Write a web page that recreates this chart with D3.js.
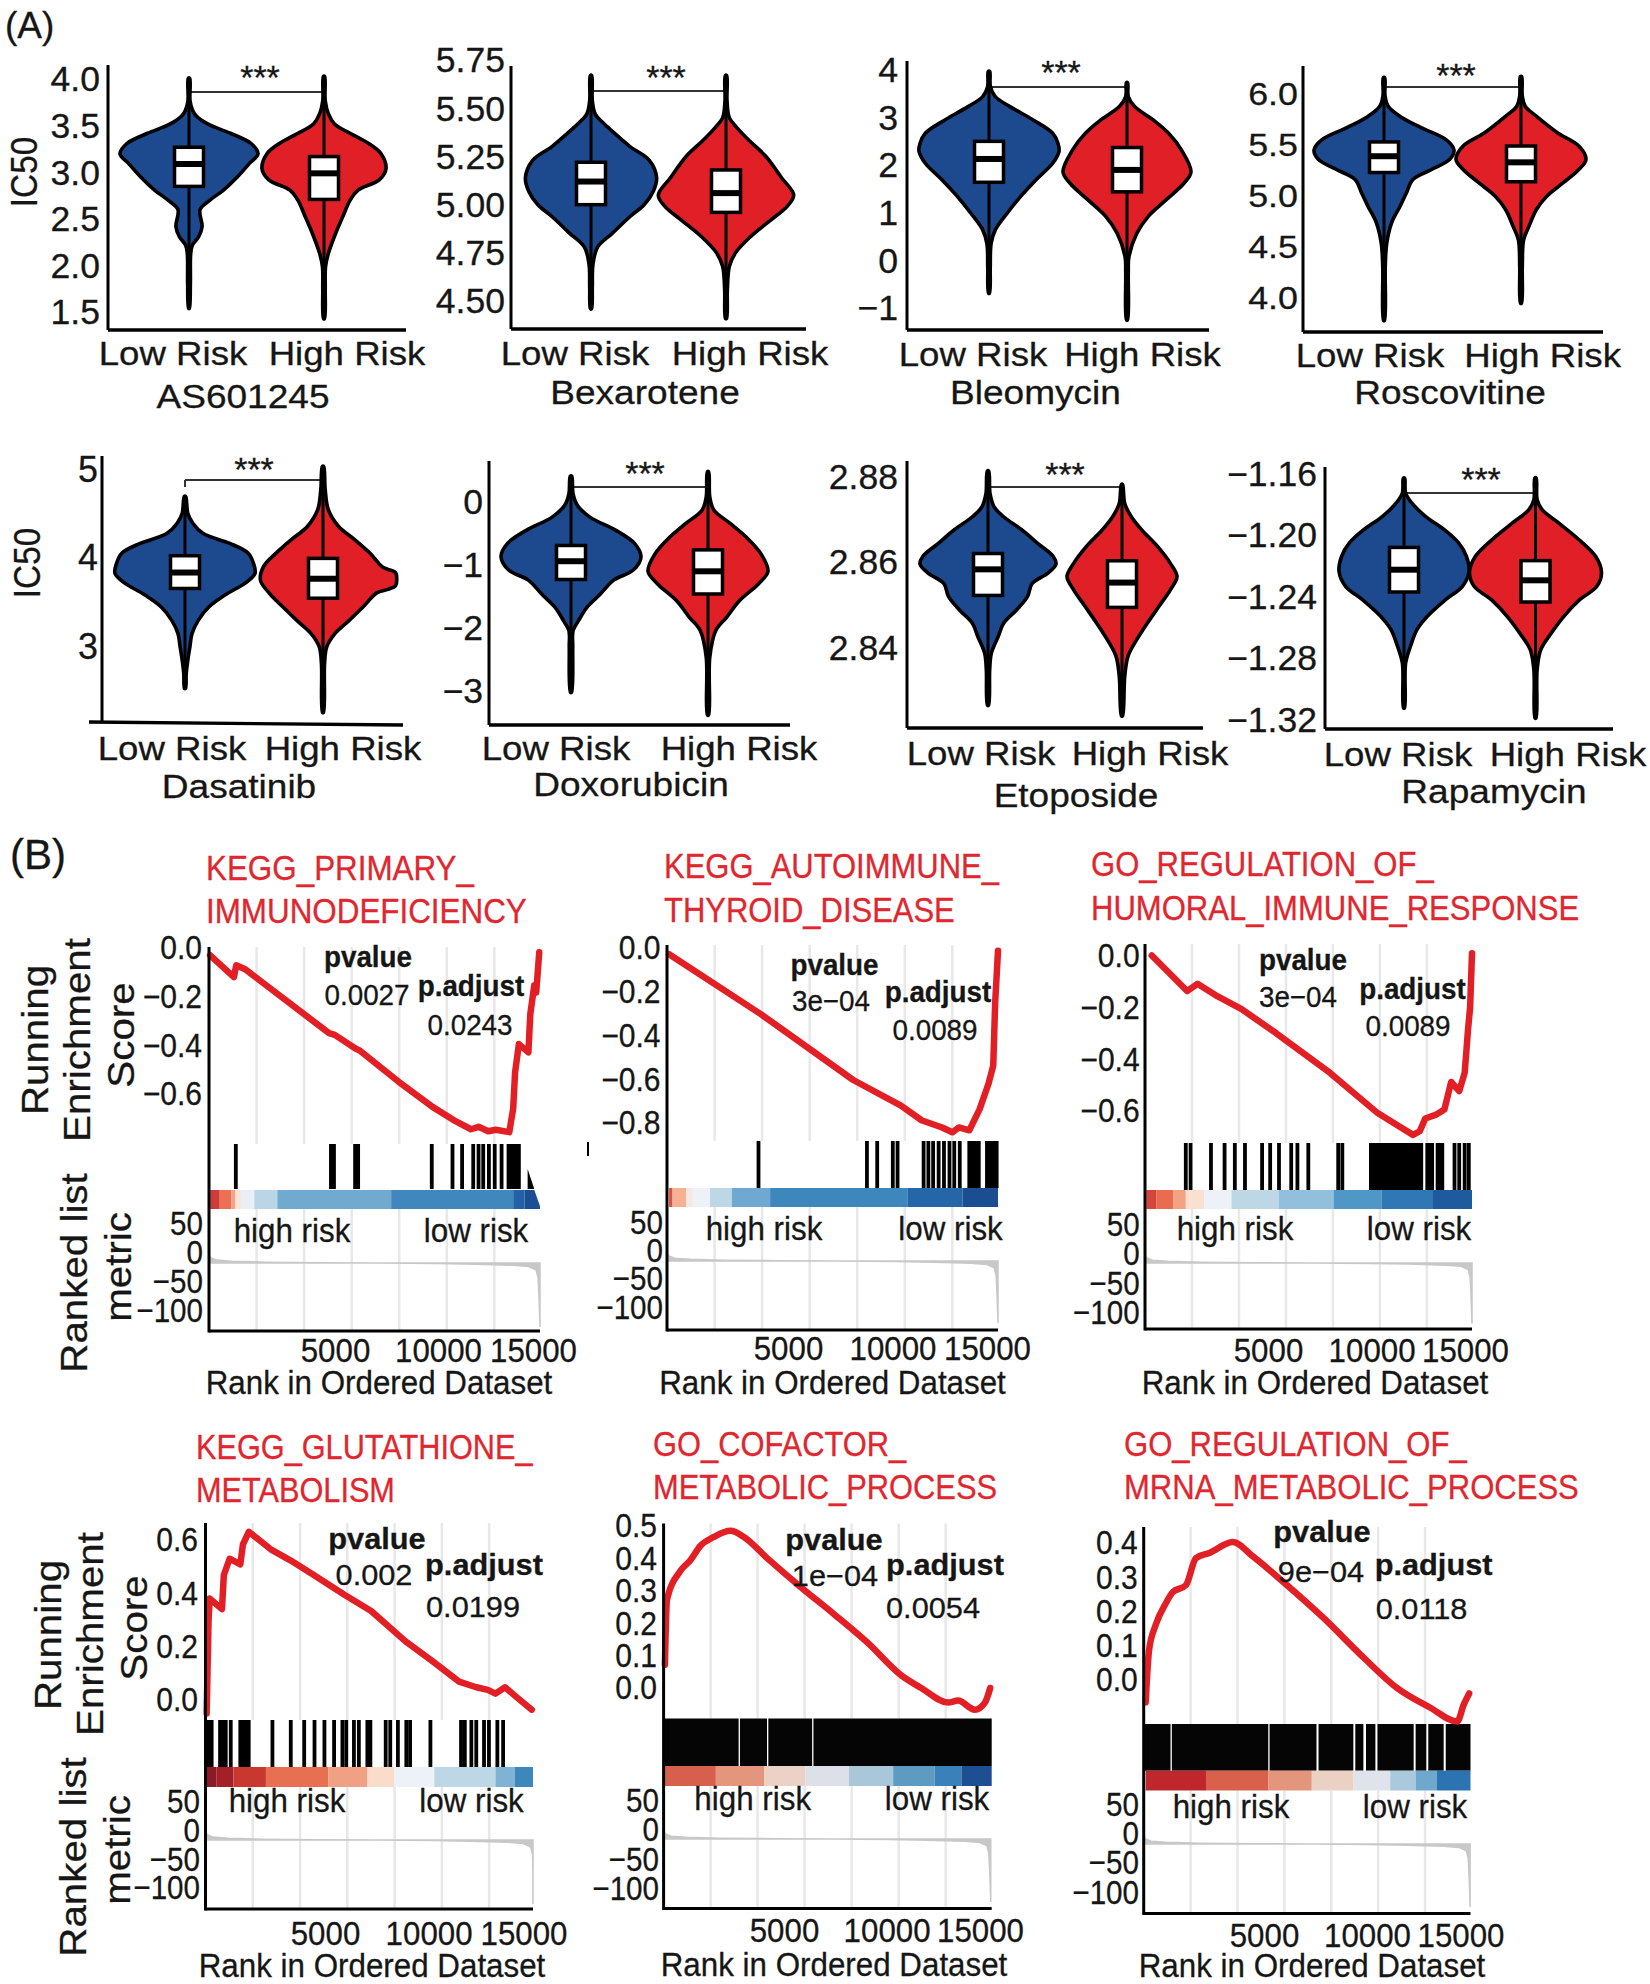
<!DOCTYPE html>
<html>
<head>
<meta charset="utf-8">
<script src="https://cdn.jsdelivr.net/npm/d3@7"></script>
<style>
html, body { margin: 0; padding: 0; background: #fff; }
text { font-family: "Liberation Sans", Arial, sans-serif; fill: #161616; stroke: #161616; stroke-width: .3px; }
</style>
</head>
<body>
<svg id="chart" width="1650" height="1984"></svg>
<script>
//violin outlines: [IC50 value, relative density]
var as601245Low = [[4.04,.01],[3.80,.015],[3.70,.05],[3.64,.1],[3.55,.27],[3.45,.6],[3.34,.9],[3.23,1],[3.13,.88],[2.98,.7],[2.84,.5],[2.73,.3],[2.63,.16],[2.45,.19],[2.34,.14],[2.25,.05],[2.16,.025],[1.84,.02],[1.57,.005]];
var as601245High = [[4.06,.01],[3.80,.02],[3.66,.07],[3.55,.17],[3.45,.42],[3.34,.72],[3.23,.92],[3.07,1],[2.95,.89],[2.84,.55],[2.73,.42],[2.55,.3],[2.38,.19],[2.16,.07],[2.02,.025],[1.77,.02],[1.46,.008]];
var bexaroteneLow = [[5.68,.01],[5.55,.02],[5.48,.065],[5.43,.2],[5.38,.36],[5.31,.6],[5.24,.89],[5.15,1],[5.08,.95],[5.01,.81],[4.95,.6],[4.86,.32],[4.79,.1],[4.70,.03],[4.58,.02],[4.47,.008]];
var bexaroteneHigh = [[5.68,.01],[5.55,.015],[5.46,.05],[5.41,.16],[5.34,.35],[5.26,.59],[5.15,.82],[5.06,1],[5.00,.9],[4.93,.66],[4.84,.35],[4.76,.14],[4.69,.05],[4.57,.02],[4.42,.008]];
var bleomycinLow = [[3.95,.01],[3.63,.02],[3.42,.09],[3.21,.3],[2.93,.63],[2.65,.91],[2.44,.985],[2.27,1],[2.02,.91],[1.67,.67],[1.32,.45],[.97,.26],[.62,.09],[.33,.03],[-.16,.018],[-.71,.007]];
var bleomycinHigh = [[3.71,.01],[3.42,.02],[3.21,.12],[2.93,.41],[2.65,.65],[2.30,.85],[1.84,1],[1.60,.89],[1.25,.61],[.90,.33],[.54,.15],[.05,.03],[-.30,.02],[-1.27,.008]];
var roscovitineLow = [[6.16,.01],[5.98,.015],[5.88,.06],[5.78,.23],[5.67,.53],[5.55,.89],[5.45,1],[5.36,.94],[5.26,.68],[5.16,.41],[5.03,.32],[4.90,.23],[4.74,.11],[4.54,.04],[4.31,.018],[3.78,.007]];
var roscovitineHigh = [[6.17,.01],[5.98,.02],[5.88,.065],[5.78,.24],[5.62,.56],[5.49,.89],[5.36,1],[5.26,.89],[5.13,.65],[5.00,.4],[4.87,.24],[4.70,.12],[4.57,.04],[4.31,.02],[3.95,.008]];
var dasatinibLow = [[4.69,.01],[4.50,.04],[4.39,.11],[4.27,.26],[4.16,.64],[4.05,.9],[3.93,.98],[3.82,1],[3.71,.86],[3.59,.6],[3.44,.34],[3.29,.19],[3.14,.1],[2.99,.07],[2.84,.04],[2.69,.018],[2.52,.007]];
var dasatinibHigh = [[5.03,.01],[4.77,.035],[4.54,.085],[4.35,.25],[4.20,.51],[4.05,.75],[3.90,.95],[3.74,1],[3.59,.85],[3.44,.64],[3.29,.42],[3.14,.19],[2.99,.06],[2.80,.025],[2.25,.008]];
//this one violin has a bump on its right side only
var dasatinibHighRight = [[5.03,.01],[4.77,.035],[4.54,.085],[4.35,.25],[4.20,.51],[4.05,.75],[3.90,.94],[3.87,1.02],[3.83,1.16],[3.75,1.18],[3.68,1.16],[3.64,1.04],[3.60,.86],[3.44,.64],[3.29,.42],[3.14,.19],[2.99,.06],[2.80,.025],[2.25,.008]];
var doxorubicinLow = [[.41,.01],[.13,.03],[-.05,.09],[-.24,.27],[-.45,.64],[-.66,.91],[-.87,1],[-1.08,.89],[-1.24,.61],[-1.46,.42],[-1.67,.23],[-1.88,.11],[-2.04,.03],[-2.30,.025],[-3.02,.008]];
var doxorubicinHigh = [[.48,.01],[.08,.03],[-.13,.1],[-.34,.37],[-.56,.64],[-.82,.88],[-1.10,1],[-1.30,.84],[-1.56,.53],[-1.83,.31],[-2.04,.13],[-2.46,.03],[-3.38,.01]];
var etoposideLow = [[2.8814,.01],[2.8761,.03],[2.8730,.09],[2.8707,.23],[2.8676,.5],[2.8645,.73],[2.8614,.96],[2.8596,1],[2.8575,.88],[2.8551,.65],[2.8520,.58],[2.8489,.42],[2.8458,.23],[2.8427,.15],[2.8388,.05],[2.8350,.025],[2.8266,.008]];
var etoposideHigh = [[2.8783,.01],[2.8738,.05],[2.8707,.17],[2.8676,.36],[2.8637,.65],[2.8598,.88],[2.8567,1],[2.8536,.88],[2.8497,.67],[2.8458,.46],[2.8420,.27],[2.8381,.11],[2.8334,.05],[2.8241,.01]];
var rapamycinLow = [[-1.1633,.01],[-1.1730,.025],[-1.1795,.12],[-1.1882,.33],[-1.1969,.62],[-1.2055,.84],[-1.2142,.96],[-1.2240,1],[-1.2337,.9],[-1.2424,.64],[-1.2532,.36],[-1.2619,.2],[-1.2727,.1],[-1.2836,.025],[-1.3129,.008]];
var rapamycinHigh = [[-1.1633,.01],[-1.1773,.025],[-1.1839,.1],[-1.1925,.35],[-1.2034,.66],[-1.2142,.91],[-1.2246,1],[-1.2337,.93],[-1.2424,.67],[-1.2532,.43],[-1.2641,.24],[-1.2749,.08],[-1.2879,.025],[-1.3194,.008]];

//boxplots: q3, median, q1
var as601245Box = [[3.30,3.12,2.88],[3.20,3.02,2.74]];
var bexaroteneBox = [[5.23,5.13,5.01],[5.19,5.07,4.97]];
var bleomycinBox = [[2.48,2.11,1.62],[2.35,1.88,1.42]];
var roscovitineBox = [[5.53,5.39,5.23],[5.49,5.33,5.14]];
var dasatinibBox = [[4.02,3.83,3.65],[3.99,3.76,3.54]];
var doxorubicinBox = [[-.69,-.94,-1.23],[-.76,-1.10,-1.46]];
var etoposideBox = [[2.8621,2.8584,2.8523],[2.8604,2.8553,2.8495]];
var rapamycinBox = [[-1.2084,-1.2229,-1.2374],[-1.2170,-1.2298,-1.2439]];

var groupNames = ["Low Risk", "High Risk"];
var bleomycinTicks = [4,3,2,1,0,-1];
var as601245Ticks = [4,3.5,3,2.5,2,1.5];
var bexaroteneTicks = [5.75,5.5,5.25,5,4.75,4.5];
var roscovitineTicks = [6,5.5,5,4.5,4];
var dasatinibTicks = [5,4,3];
var doxorubicinTicks = [0,-1,-2,-3];
var etoposideTicks = [2.88,2.86,2.84];
var rapamycinTicks = [-1.16,-1.2,-1.24,-1.28,-1.32];

//running enrichment score: [rank, score]
var primaryScore = [[60,-.034],[1310,-.124],[1430,-.075],[1875,-.09],[6310,-.354],[6610,-.361],[7720,-.418],[7920,-.425],[9940,-.552],[11750,-.657],[12960,-.716],[13770,-.749],[14170,-.739],[14680,-.757],[15080,-.751],[15785,-.761],[15990,-.664],[16090,-.515],[16290,-.399],[16790,-.433],[16890,-.276],[17100,-.157],[17200,-.187],[17360,-.022]];
var thyroidScore = [[110,-.033],[4950,-.308],[9790,-.608],[12300,-.725],[13380,-.792],[14460,-.825],[15000,-.847],[15350,-.825],[15890,-.838],[16430,-.742],[16900,-.625],[17150,-.542],[17250,-.258],[17400,-.017]];
var humoralScore = [[360,-.004],[2240,-.141],[2790,-.113],[3870,-.162],[5140,-.211],[6950,-.302],[9850,-.457],[12380,-.612],[13470,-.661],[14260,-.696],[14620,-.682],[14910,-.633],[15460,-.619],[15930,-.598],[16290,-.492],[16720,-.527],[17010,-.457],[17190,-.288],[17300,-.204],[17400,.005]];
var glutathioneScore = [[60,-.054],[160,.29],[220,.377],[870,.337],[970,.465],[1275,.526],[1840,.505],[1980,.58],[2290,.627],[3500,.559],[4510,.519],[5725,.465],[7345,.391],[8760,.33],[10580,.216],[12000,.142],[13410,.065],[14320,.044],[14930,.034],[15335,.02],[15840,.044],[16450,.007],[17255,-.04]];
var cofactorScore = [[70,.069],[180,.269],[890,.358],[1425,.391],[1960,.436],[2670,.463],[3560,.482],[4270,.463],[5520,.397],[7300,.308],[9080,.224],[10860,.136],[12640,.036],[13700,-.003],[15130,-.048],[15660,-.042],[16550,-.07],[17090,-.048],[17370,-.003]];
var mrnaScore = [[105,-.068],[285,.084],[640,.158],[1180,.221],[1535,.253],[2250,.274],[2785,.353],[3500,.368],[4750,.4],[5820,.358],[7425,.284],[9570,.179],[11710,.063],[13495,-.026],[15280,-.084],[16710,-.124],[17065,-.074],[17350,-.042]];

//gene set hits, as ranks
var primaryHits = [1410,6410,6510,6570,7680,7840,11710,12800,13305,13890,14170,14415,14715,15020,15380,15745,15885,16030,16170,16290];
var thyroidHits = [4810,10510,11050,11870,12120,13490,13740,13990,14280,14560,14850,15100,15390,15890,16000,16140,16270,16390,16820,16950,17070,17200,17330];
var humoralHits = [2170,2425,3510,4235,4780,5320,6230,6660,7130,7780,8110,8690,10280,10500,12020,12160,12310,12450,12600,12750,12890,13040,13180,13320,13470,13650,13830,13980,14120,14270,14410,14560,14700,15020,15150,15280,15570,15690,15820,16470,16720,17010,17230];
var glutathioneHits = [60,200,325,770,930,1070,1335,1840,1980,2125,2285,3540,4510,5220,5765,6290,6800,7240,7445,7850,8110,8560,8720,9530,9770,10175,10620,10820,11895,13515,13715,14060,14320,14730,14990,15435,15740];
//the two dense sets read as solid runs of hits
var cofactorHitRuns = [[0,3990],[4060,5500],[5570,7900],[7970,17450]];
var mrnaHitRuns = [[0,1430],[1500,6640],[6710,9210],[9320,11175],[11280,11710],[11850,12350],[12460,14390],[14495,15065],[15170,15990],[16100,17420]];

//colour strip: rank where each colour starts, and the colour
var primaryStripRanks = [60,565,1170,1370,1675,2380,3590,9575,15990,16590];
var primaryStripColors = ["#cf3b38","#ec7154","#f3a487","#fbe3d8","#e9eff6","#b9d5e6","#72aacf","#3f87bd","#2461a4","#1c4e94"];
var thyroidStripRanks = [110,290,1000,1360,2260,3410,5420,12660,15530];
var thyroidStripColors = ["#d9513f","#f7b093","#f6e8e2","#edf1f8","#bdd7e6","#6fa9d1","#3d87bd","#2566a8","#1b4e91"];
var humoralStripRanks = [70,615,1520,2170,3150,4600,7130,10030,12600,15280];
var humoralStripColors = ["#d6453c","#e96b50","#f3a285","#fbdfd0","#edf1f8","#bdd7e6","#92c0dc","#4f97c6","#2f78b5","#1f5a9f"];
var glutathioneStripRanks = [20,570,1480,3195,6495,8560,9970,12100,15335,16350];
var glutathioneStripColors = ["#8b1a24","#a42029","#c9382f","#e96f52","#f0a083","#fadccb","#edf1f8","#bdd7e6","#7fb2d5","#3d87bd"];
var cofactorStripRanks = [70,2780,5340,7550,9860,12210,14420,15840];
var cofactorStripColors = ["#d6604d","#e3967c","#ecd2c6","#dde0e8","#a9c7d9","#5e9bc3","#3a80b9","#1d4f92"];
var mrnaStripRanks = [105,3320,6640,8960,11175,13140,14495,15635];
var mrnaStripColors = ["#c0272d","#d9604a","#e3967c","#ebd0c4","#dfe3ec","#aac9dc","#6ea8cf","#2c74b1"];

//ranked list metric, the same shape in every panel
var rankedMetric = [[0,15],[100,9],[400,5],[1200,3],[3000,1.5],[6000,.6],[9000,0],[12000,-.8],[14000,-2],[16000,-4],[16800,-6],[17200,-12],[17300,-26],[17350,-60],[17400,-110]];
var metricTicks = [50,0,-50,-100];
var rankTicks = [5000,10000,15000];
var gridRanks = [2500,5000,7500,10000,12500,15000];
var primaryTicks = [0,-.2,-.4,-.6];
var thyroidTicks = [0,-.2,-.4,-.6,-.8];
var glutathioneTicks = [.6,.4,.2,0];
var cofactorTicks = [.5,.4,.3,.2,.1,0];
var mrnaTicks = [.4,.3,.2,.1,0];

var blue = "#1d4a8e", red = "#e01f27", titleRed = "#e0262e";

//where the panels sit on the page
var violinPanels = [
    {drug:"AS601245", low:as601245Low, high:as601245High, box:as601245Box, ticks:as601245Ticks, fmt:".1f", axisX:108, top:65, base:[108,330,406,330], domain:[4,1.5], range:[82,315], cx:[189,324], maxW:[69,62], bracketY:92, star:[260,69], labelX:[173,347], labelY:365, drugPos:[243,408], tickX:100, tickDy:-3.5, tickFont:[34.5,1.03], ylab:[37,172]},
    {drug:"Bexarotene", low:bexaroteneLow, high:bexaroteneHigh, box:bexaroteneBox, ticks:bexaroteneTicks, fmt:".2f", axisX:511, top:66, base:[511,329,806,329], domain:[5.75,4.5], range:[62,303], cx:[591,726], maxW:[65.6,67.7], bracketY:91, star:[666,69], labelX:[575,750], labelY:365, drugPos:[645,404], tickX:505, tickDy:-2.5, tickFont:[34.5,1.03]},
    {drug:"Bleomycin", low:bleomycinLow, high:bleomycinHigh, box:bleomycinBox, ticks:bleomycinTicks, fmt:"d", axisX:907, top:61, base:[907,330,1209,330], domain:[4,-1], range:[69,307], cx:[989,1127], maxW:[70,64], bracketY:87, star:[1061,64], labelX:[973,1142.5], labelY:366, drugPos:[1035.5,404], tickX:898, tickDy:0, tickFont:[35,1.02]},
    {drug:"Roscovitine", low:roscovitineLow, high:roscovitineHigh, box:roscovitineBox, ticks:roscovitineTicks, fmt:".1f", axisX:1303, top:66, base:[1303,332,1603,332], domain:[6,4], range:[94,298], cx:[1384,1521], maxW:[70,65], bracketY:87, star:[1456,67], labelX:[1370,1542.6], labelY:367, drugPos:[1450,404], tickX:1298, tickDy:-1, tickFont:[32,1.12]},
    {drug:"Dasatinib", low:dasatinibLow, high:dasatinibHigh, highRight:dasatinibHighRight, box:dasatinibBox, ticks:dasatinibTicks, fmt:"d", axisX:102, top:456, base:[89,722,403,725], domain:[5,3], range:[469,646], cx:[185,323], maxW:[70,62.5], bracketY:480, bracketLeg:7, star:[254,461], labelX:[172,343], labelY:760, drugPos:[239,798], tickX:98, tickDy:-1, tickFont:[37,.97], ylab:[40,563]},
    {drug:"Doxorubicin", low:doxorubicinLow, high:doxorubicinHigh, box:doxorubicinBox, ticks:doxorubicinTicks, fmt:"d", axisX:489, top:461, base:[489,725,790,725], domain:[0,-3], range:[502,691], cx:[571,708], maxW:[70,60], bracketY:487, star:[645,465], labelX:[556,739], labelY:760, drugPos:[631,796], tickX:483, tickDy:-1, tickFont:[34.5,1.03]},
    {drug:"Etoposide", low:etoposideLow, high:etoposideHigh, box:etoposideBox, ticks:etoposideTicks, fmt:".2f", axisX:907, top:461, base:[907,728,1203,728], domain:[2.88,2.84], range:[477,648], cx:[988,1122], maxW:[68,55], bracketY:487, star:[1065,466], labelX:[981,1150], labelY:765, drugPos:[1076,807], tickX:898, tickDy:-1, tickFont:[34.5,1.03]},
    {drug:"Rapamycin", low:rapamycinLow, high:rapamycinHigh, box:rapamycinBox, ticks:rapamycinTicks, fmt:".2f", axisX:1325, top:467, base:[1325,729,1613,729], domain:[-1.16,-1.32], range:[473,719], cx:[1404,1535.5], maxW:[65,66], bracketY:493, star:[1481,471], labelX:[1398,1568], labelY:766, drugPos:[1494,803], tickX:1317, tickDy:0, tickFont:[34.5,1.03]}
];

var gseaPanels = [
    {title:["KEGG_PRIMARY_","IMMUNODEFICIENCY"], titlePos:[206,880,923], titleScale:.91, statScale:.96, score:primaryScore, hits:primaryHits, stripRanks:primaryStripRanks, stripColors:primaryStripColors, ticks:primaryTicks,
     pvalue:"0.0027", padjust:"0.0243", statPos:[368,967,367,1005,471,996,470,1035], axisX:209, right:540, maxRank:17400, top:947, bottom:1331, scoreY:[947,1093], scoreRange:[0,-.6], rug:[1144,1189], strip:[1190,1209], metricLabelY:[1222,1309], metricY:[1263,1327], tickRight:[202,203], riskPos:[292,476,1242], rankLabelX:[335,438,533], rankLabelY:1362, rankTitle:[379,1394], notch:[16750,17100],
     ylabels:[["Running",48,1040],["Enrichment",90,1040],["Score",134,1035],["Ranked list",87,1273],["metric",131,1267]]},
    {title:["KEGG_AUTOIMMUNE_","THYROID_DISEASE"], titlePos:[664,878,922], titleScale:.898, statScale:.96, score:thyroidScore, hits:thyroidHits, stripRanks:thyroidStripRanks, stripColors:thyroidStripColors, ticks:thyroidTicks,
     pvalue:"3e−04", padjust:"0.0089", statPos:[834.5,974.5,831,1011,938,1002,935,1040], axisX:667, right:998, maxRank:17400, top:945, bottom:1330, scoreY:[947,1122], scoreRange:[0,-.8], rug:[1141,1188], strip:[1188,1207], metricLabelY:[1221,1306], metricY:[1261,1323], tickRight:[660.5,663], riskPos:[764,950.5,1240], rankLabelX:[788,892.5,987], rankLabelY:1360, rankTitle:[832.5,1394]},
    {title:["GO_REGULATION_OF_","HUMORAL_IMMUNE_RESPONSE"], titlePos:[1091,876,920], titleScale:.9, statScale:.96, score:humoralScore, hits:humoralHits, stripRanks:humoralStripRanks, stripColors:humoralStripColors, ticks:primaryTicks,
     pvalue:"3e−04", padjust:"0.0089", statPos:[1303,970,1298,1006.5,1412.5,999,1408,1036], axisX:1145, right:1472, maxRank:17400, top:944, bottom:1329, scoreY:[954.5,1110], scoreRange:[0,-.6], rug:[1143,1190], strip:[1190,1209], metricLabelY:[1223.5,1311], metricY:[1263,1323.5], tickRight:[1139.6,1139.6], riskPos:[1235,1419,1240], rankLabelX:[1268,1371.6,1465], rankLabelY:1361.6, rankTitle:[1315,1394]},
    {title:["KEGG_GLUTATHIONE_","METABOLISM"], titlePos:[196,1459,1502], titleScale:.89, statScale:1.06, score:glutathioneScore, hits:glutathioneHits, stripRanks:glutathioneStripRanks, stripColors:glutathioneStripColors, ticks:glutathioneTicks,
     pvalue:"0.002", padjust:"0.0199", statPos:[377,1549,374,1585,484,1575,473,1617], axisX:205.5, right:533, maxRank:17320, top:1523, bottom:1909, scoreY:[1539,1699], scoreRange:[.6,0], rug:[1720,1767], strip:[1767,1787], metricLabelY:[1800.5,1886.5], metricY:[1840,1904], tickRight:[198,200], riskPos:[287,471.5,1812], rankLabelX:[325,428.6,523.5], rankLabelY:1945, rankTitle:[372,1977],
     ylabels:[["Running",60.5,1635],["Enrichment",102.6,1634],["Score",146.6,1628],["Ranked list",86,1857],["metric",130,1850]]},
    {title:["GO_COFACTOR_","METABOLIC_PROCESS"], titlePos:[653,1456,1499], titleScale:.895, statScale:1.06, smooth:true, score:cofactorScore, hitRuns:cofactorHitRuns, stripRanks:cofactorStripRanks, stripColors:cofactorStripColors, ticks:cofactorTicks,
     pvalue:"1e−04", padjust:"0.0054", statPos:[834,1549.5,835,1585.5,945,1575,933,1618], axisX:663.6, right:991.7, maxRank:17450, top:1523.6, bottom:1908.5, scoreY:[1525,1687], scoreRange:[.5,0], rug:[1718.5,1766], strip:[1766,1786], metricLabelY:[1799.5,1887], metricY:[1839,1902], tickRight:[657,659], riskPos:[752.7,937,1810], rankLabelX:[784,886.6,980], rankLabelY:1941.5, rankTitle:[834,1976]},
    {title:["GO_REGULATION_OF_","MRNA_METABOLIC_PROCESS"], titlePos:[1124,1456,1499], titleScale:.9, statScale:1.06, smooth:true, score:mrnaScore, hitRuns:mrnaHitRuns, stripRanks:mrnaStripRanks, stripColors:mrnaStripColors, ticks:mrnaTicks,
     pvalue:"9e−04", padjust:"0.0118", statPos:[1322,1542,1321,1582,1433.6,1575,1421.6,1618.6], axisX:1143.7, right:1470.5, maxRank:17420, top:1527, bottom:1913.5, scoreY:[1542,1679], scoreRange:[.4,0], rug:[1724,1770.7], strip:[1770.7,1790.5], metricLabelY:[1803,1891], metricY:[1844,1907], tickRight:[1137.7,1139], riskPos:[1231,1415,1817.5], rankLabelX:[1264,1367,1460.5], rankLabelY:1947, rankTitle:[1312,1977]}
];

var svg = d3.select("#chart");

//text with a horizontal squeeze, the picture's fonts are not quite Arial shaped
function addText(parent, str, x, y, size, sx, anchor, rotate, weight)
{
    return parent.append("text")
        .attr("transform", "translate(" + x + "," + y + ")" + (rotate ? " rotate(" + rotate + ")" : "") + " scale(" + sx + ",1)")
        .attr("text-anchor", anchor || "middle")
        .attr("font-size", size)
        .attr("font-weight", weight || "normal")
        .text(str);
}

function styleTicks(axisG, size, sx)
{
    axisG.select(".domain").remove();
    axisG.selectAll("text")
        .attr("font-size", size)
        .attr("fill", "#161616")
        .attr("transform", "scale(" + sx + ",1)");
}

function addLine(parent, x1, y1, x2, y2, color, width)
{
    return parent.append("line")
        .attr("x1", x1).attr("y1", y1).attr("x2", x2).attr("y2", y2)
        .attr("stroke", color).attr("stroke-width", width);
}

function drawViolin(g, profile, profileRight, box, cx, maxW, y, color)
{
    var w = d3.scaleLinear().domain([0, 1]).range([0, maxW]);
    var pts = profile.map(function(d){ return [cx - w(d[1]), y(d[0])]; })
        .concat(profileRight.slice().reverse().map(function(d){ return [cx + w(d[1]), y(d[0])]; }));

    g.append("path")
        .attr("d", d3.line().curve(d3.curveCatmullRomClosed.alpha(.5))(pts))
        .attr("fill", color)
        .attr("stroke", "#000")
        .attr("stroke-width", 3.6)
        .attr("stroke-linejoin", "round");

    //whisker runs the whole height of the violin
    addLine(g, cx, y(profile[0][0]), cx, y(profile[profile.length - 1][0]), "#000", 3);

    g.append("rect")
        .attr("x", cx - 14.5)
        .attr("y", y(box[0]))
        .attr("width", 29)
        .attr("height", y(box[2]) - y(box[0]))
        .attr("fill", "#fff")
        .attr("stroke", "#000")
        .attr("stroke-width", 3.5);
    addLine(g, cx - 14.5, y(box[1]), cx + 14.5, y(box[1]), "#000", 6);
}

function drawViolinPanel(p)
{
    var g = svg.append("g").attr("class", "violin_panel");
    var y = d3.scaleLinear().domain(p.domain).range(p.range);

    //bracket goes under the violins, their tails cross it
    addLine(g, p.cx[0], p.bracketY, p.cx[1], p.bracketY, "#333", 2);
    if(p.bracketLeg)
        addLine(g, p.cx[0], p.bracketY, p.cx[0], p.bracketY + p.bracketLeg, "#333", 2);

    drawViolin(g, p.low, p.low, p.box[0], p.cx[0], p.maxW[0], y, blue);
    drawViolin(g, p.high, p.highRight || p.high, p.box[1], p.cx[1], p.maxW[1], y, red);

    addLine(g, p.axisX, p.top, p.axisX, p.base[1], "#000", 3);
    addLine(g, p.base[0], p.base[1], p.base[2], p.base[3], "#000", 3.4);

    var axisG = g.append("g")
        .attr("transform", "translate(" + p.tickX + "," + p.tickDy + ")")
        .call(d3.axisLeft(y).tickValues(p.ticks).tickSize(0).tickPadding(0).tickFormat(d3.format(p.fmt)));
    styleTicks(axisG, p.tickFont[0], p.tickFont[1]);
    axisG.selectAll("text").attr("x", 0).attr("dy", ".36em");

    addText(g, "***", p.star[0], p.star[1] + 20, 34, 1);
    groupNames.forEach(function(name, i){
        addText(g, name, p.labelX[i], p.labelY, 33, 1.11);
    });
    addText(g, p.drug, p.drugPos[0], p.drugPos[1], 34, 1.09);
    if(p.ylab)
        addText(g, "IC50", p.ylab[0], p.ylab[1], 37, .9, "middle", -90);
}

function drawGseaPanel(p, idx)
{
    var g = svg.append("g").attr("class", "gsea_panel");
    var x = d3.scaleLinear().domain([0, p.maxRank]).range([p.axisX, p.right]).clamp(true);
    var y = d3.scaleLinear().domain(p.scoreRange).range(p.scoreY);
    var metric = d3.scaleLinear().domain([0, -110]).range(p.metricY);

    //light grid, broken by the rug and colour strip
    gridRanks.forEach(function(r){
        addLine(g, x(r), p.top, x(r), p.rug[0], "#e8e8e8", 2.5);
        addLine(g, x(r), p.strip[1], x(r), p.bottom, "#e8e8e8", 2.5);
    });

    //ranked list metric
    g.append("path")
        .attr("d", d3.area().x(function(d){ return x(d[0]); }).y0(metric(0)).y1(function(d){ return metric(d[1]); })(rankedMetric))
        .attr("fill", "#c8c8c8")
        .attr("stroke", "#c8c8c8")
        .attr("stroke-width", 1.5);

    //hits
    (p.hits || []).forEach(function(r){
        addLine(g, x(r), p.rug[0], x(r), p.rug[1], "#000", 3.8);
    });
    (p.hitRuns || []).forEach(function(run){
        g.append("rect")
            .attr("x", x(run[0])).attr("y", p.rug[0])
            .attr("width", x(run[1]) - x(run[0])).attr("height", p.rug[1] - p.rug[0])
            .attr("fill", "#050505");
    });

    //colour strip
    p.stripRanks.forEach(function(r, i){
        var next = i < p.stripRanks.length - 1 ? p.stripRanks[i + 1] : p.maxRank;
        g.append("rect")
            .attr("x", x(r)).attr("y", p.strip[0])
            .attr("width", x(next) - x(r)).attr("height", p.strip[1] - p.strip[0])
            .attr("fill", p.stripColors[i]);
    });

    //first panel ends with a slanted cut through rug and strip
    if(p.notch)
    {
        g.append("path")
            .attr("d", d3.line()([[x(p.notch[0]), p.rug[0] + 25], [x(p.notch[0]), p.rug[1]], [x(p.notch[1]), p.rug[1]]]))
            .attr("fill", "#000");
        g.append("path")
            .attr("d", d3.line()([[x(p.notch[1]), p.strip[0]], [x(p.maxRank) + 1, p.strip[0]], [x(p.maxRank) + 1, p.strip[1]]]))
            .attr("fill", "#fff");
    }

    //running score, the two rounded ones get a smooth curve
    g.append("path")
        .attr("d", d3.line().curve(p.smooth ? d3.curveMonotoneX : d3.curveLinear).x(function(d){ return x(d[0]); }).y(function(d){ return y(d[1]); })(p.score))
        .attr("fill", "none")
        .attr("stroke", "#e31f26")
        .attr("stroke-width", 6.5)
        .attr("stroke-linejoin", "round")
        .attr("stroke-linecap", "round");

    addLine(g, p.axisX, p.top, p.axisX, p.bottom + 1.5, "#000", 3);
    addLine(g, p.axisX, p.bottom, p.right, p.bottom, "#000", 3.2);

    //tick labels sit where the figure put them, not quite on the data
    var scoreAxis = g.append("g")
        .attr("transform", "translate(" + p.tickRight[0] + ",0)")
        .call(d3.axisLeft(y).tickValues(p.ticks).tickSize(0).tickPadding(0).tickFormat(d3.format(".1f")));
    styleTicks(scoreAxis, 33, .91);
    scoreAxis.selectAll("text").attr("x", 0).attr("dy", ".36em");

    var metricLabel = d3.scaleLinear().domain([50, -100]).range(p.metricLabelY);
    var metricAxis = g.append("g")
        .attr("transform", "translate(" + p.tickRight[1] + ",0)")
        .call(d3.axisLeft(metricLabel).tickValues(metricTicks).tickSize(0).tickPadding(0).tickFormat(d3.format("d")));
    styleTicks(metricAxis, 34, .87);
    metricAxis.selectAll("text").attr("x", 0).attr("dy", ".36em");

    var rankLabel = d3.scaleLinear().domain(rankTicks).range(p.rankLabelX);
    var rankAxis = g.append("g")
        .attr("transform", "translate(0," + p.rankLabelY + ")")
        .call(d3.axisBottom(rankLabel).tickValues(rankTicks).tickSize(0).tickPadding(0).tickFormat(d3.format("d")));
    rankAxis.select(".domain").remove();
    rankAxis.selectAll("text")
        .attr("font-size", 34).attr("fill", "#161616")
        .attr("y", 0).attr("dy", 0)
        .attr("transform", "scale(.92,1)");

    //titles and labels
    p.title.forEach(function(line, i){
        addText(g, line, p.titlePos[0], p.titlePos[i + 1], 34.5, p.titleScale, "start")
            .style("fill", titleRed).style("stroke", titleRed);
    });
    var s = p.statPos;
    addText(g, "pvalue", s[0], s[1], 29, p.statScale, "middle", 0, "bold");
    addText(g, p.pvalue, s[2], s[3], 29, p.statScale);
    addText(g, "p.adjust", s[4], s[5], 29, p.statScale, "middle", 0, "bold");
    addText(g, p.padjust, s[6], s[7], 29, p.statScale);

    addText(g, "high risk", p.riskPos[0], p.riskPos[2], 33, .95);
    addText(g, "low risk", p.riskPos[1], p.riskPos[2], 33, .95);
    addText(g, "Rank in Ordered Dataset", p.rankTitle[0], p.rankTitle[1], 33, .95);

    (p.ylabels || []).forEach(function(d){
        addText(g, d[0], d[1], d[2], 37, 1.09, "middle", -90);
    });
}

addText(svg, "(A)", 5, 38, 37, 1, "start");
addText(svg, "(B)", 10, 869, 42, 1, "start");

violinPanels.forEach(drawViolinPanel);
gseaPanels.forEach(drawGseaPanel);

//stray mark left of the second enrichment panel
addLine(svg, 588, 1142, 588, 1156, "#000", 2);
</script>
</body>
</html>
